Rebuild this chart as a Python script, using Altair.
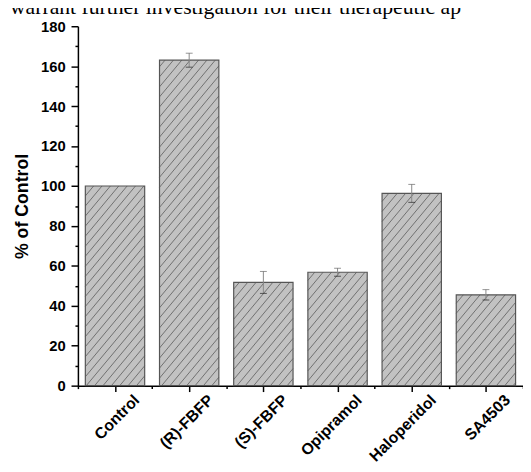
import json
import altair as alt
import pandas as pd

# ---- data ----
categories = ["Control", "(R)-FBFP", "(S)-FBFP", "Opipramol", "Haloperidol", "SA4503"]
values = [100.0, 163.0, 51.7, 56.8, 96.3, 45.5]
errors = [0.0, 3.5, 5.5, 2.0, 4.5, 2.6]
y_tick_values = list(range(0, 181, 10))
header_text = "warrant further investigation for their therapeutic ap"

# ---- layout / style ----
W, H = 452, 365
Y_MAX = 180
N = len(categories)
PX_X = W / N          # pixels per x unit
PX_Y = H / Y_MAX      # pixels per y unit
HATCH_STEP = 8.5      # px between hatch lines (horizontal)
HATCH_SLOPE = 1.2     # rise over run of hatch lines

bars = pd.DataFrame({
    "cat": categories,
    "x0": [i + 0.1 for i in range(N)],
    "x1": [i + 0.9 for i in range(N)],
    "xc": [i + 0.5 for i in range(N)],
    "val": values,
    "err": errors,
})
bars["lo"] = bars["val"] - bars["err"]
bars["hi"] = bars["val"] + bars["err"]
err_df = bars[bars["err"] > 0]

# hatch segments clipped to each bar (built from the bar table)
rows = []
for _, r in bars.iterrows():
    L, R = r["x0"] * PX_X, r["x1"] * PX_X
    T = r["val"] * PX_Y
    n0 = int((L - T / HATCH_SLOPE) // HATCH_STEP) - 1
    n1 = int(R // HATCH_STEP) + 1
    for n in range(n0, n1 + 1):
        c = n * HATCH_STEP
        xa = max(L, c)
        xb = min(R, c + T / HATCH_SLOPE)
        if xb - xa > 0.3:
            rows.append({
                "hx": xa / PX_X, "hy": HATCH_SLOPE * (xa - c) / PX_Y,
                "hx2": xb / PX_X, "hy2": HATCH_SLOPE * (xb - c) / PX_Y,
            })
hatch = pd.DataFrame(rows)

cat_js = json.dumps(categories)
FONT = "Liberation Sans"

x_axis = alt.Axis(
    values=[i * 0.5 for i in range(2 * N + 1)],
    labelExpr=f"datum.value % 1 == 0.5 ? {cat_js}[floor(datum.value)] : ''",
    tickSize={"condition": {"test": "datum.value % 1 == 0.5", "value": 6}, "value": 3},
    labelAngle=-45, labelAlign="right", labelBaseline="top",
    labelOffset=16, labelPadding=0,
    labelFont=FONT, labelFontSize=16, labelFontWeight="bold", labelColor="black",
    labelOverlap=False, labelBound=False, labelFlush=False,
    domainColor="black", domainWidth=1.5, tickColor="black", tickWidth=1.5,
    grid=False, title=None,
)
y_axis = alt.Axis(
    values=y_tick_values,
    labelExpr="datum.value % 20 == 0 ? datum.label : ''",
    tickSize={"condition": {"test": "datum.value % 20 == 0", "value": 7}, "value": 3},
    labelPadding=6,
    labelFont=FONT, labelFontSize=15, labelFontWeight="bold", labelColor="black",
    labelOverlap=False, labelFlush=False,
    domainColor="black", domainWidth=1.5, tickColor="black", tickWidth=1.5,
    grid=False, title="% of Control", titleFont=FONT, titleFontSize=18,
    titleFontWeight="bold", titleColor="black", titlePadding=9,
)

xs = alt.Scale(domain=[0, N], nice=False, zero=False)
ys = alt.Scale(domain=[0, Y_MAX], nice=False)


def X(field):
    return alt.X(field, type="quantitative", scale=xs, axis=x_axis)


def Y(field):
    return alt.Y(field, type="quantitative", scale=ys, axis=y_axis)


base = alt.Chart(bars)

fill_layer = base.mark_rect(fill="#c2c2c2", strokeWidth=0).encode(
    x=X("x0"), x2="x1:Q", y=Y("val"), y2=alt.datum(0),
)

hatch_layer = alt.Chart(hatch).mark_rule(color="#5a5a5a", strokeWidth=0.8).encode(
    x=X("hx"), x2="hx2:Q", y=Y("hy"), y2="hy2:Q",
)

outline_layer = base.mark_rect(fill=None, stroke="#555555", strokeWidth=1.2).encode(
    x=X("x0"), x2="x1:Q", y=Y("val"), y2=alt.datum(0),
)

err_rule = alt.Chart(err_df).mark_rule(color="#888888", strokeWidth=1).encode(
    x=X("xc"), y=Y("lo"), y2="hi:Q",
)
cap_lo = alt.Chart(err_df).mark_tick(orient="horizontal", size=7, thickness=1, color="#222222").encode(
    x=X("xc"), y=Y("lo"),
)
cap_hi = alt.Chart(err_df).mark_tick(orient="horizontal", size=7, thickness=1, color="#666666").encode(
    x=X("xc"), y=Y("hi"),
)

header = alt.Chart(pd.DataFrame({"t": [header_text]})).mark_text(
    align="left", baseline="alphabetic", font="Liberation Serif", fontSize=22, color="black",
).encode(text="t:N", x=alt.value(-69), y=alt.value(-12))

chart = alt.layer(
    fill_layer, hatch_layer, outline_layer, err_rule, cap_lo, cap_hi, header
).properties(
    width=W, height=H,
    autosize=alt.AutoSizeParams(type="none"),
    padding={"left": 71, "top": 15, "right": 0, "bottom": 74},
).configure_view(stroke=None)

chart.save("out.html", embed_options={"renderer": "svg", "actions": False})
